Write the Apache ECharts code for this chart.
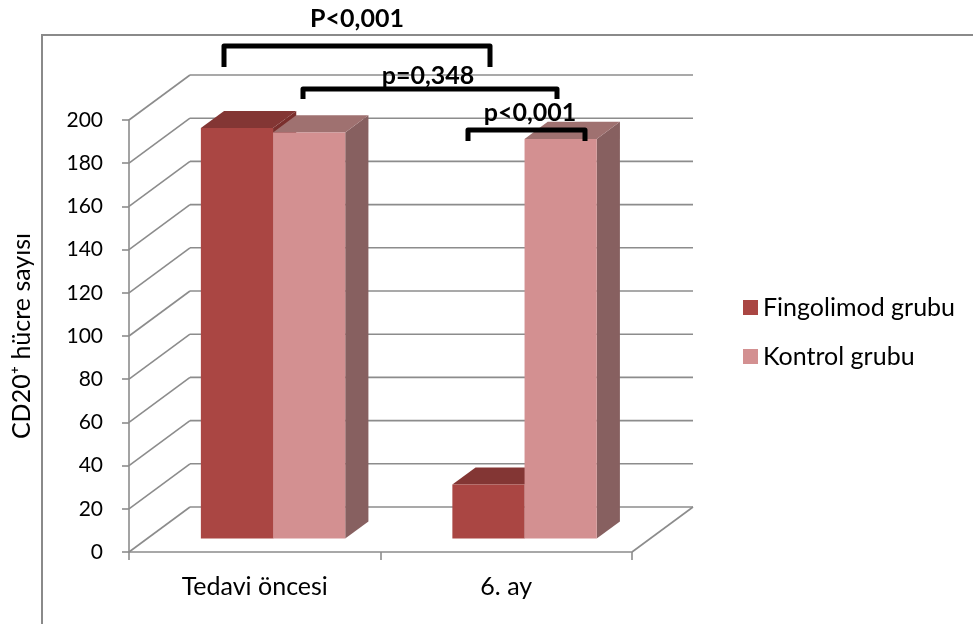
<!DOCTYPE html>
<html>
<head>
<meta charset="utf-8">
<script src="https://cdn.jsdelivr.net/npm/echarts@6/dist/echarts.min.js"></script>
<style>
  html, body { margin: 0; padding: 0; background: #fff; }
  #chart { width: 973px; height: 624px; }
</style>
</head>
<body>
<div id="chart"></div>
<script>
// Categories and values
const categories = ['Tedavi öncesi', '6. ay'];
const seriesNames = ['Fingolimod grubu', 'Kontrol grubu'];
const fingolimod = [190, 25];
const kontrol = [188, 185];
const yTicks = [0, 20, 40, 60, 80, 100, 120, 140, 160, 180, 200];

// Face colours for each series: front, top, side
const faces = [
  { front: '#AA4643', top: '#833634', side: '#7A2F2D' },
  { front: '#D39091', top: '#9F7170', side: '#876060' }
];

const FONT = 'Lato, "Open Sans", "DejaVu Sans", sans-serif';
const GRID_COLOR = '#8C8C8C';

// Oblique depth vector of the plot box (floor / side wall)
const DEPTH_X = 61, DEPTH_Y = -45;
// Bars sit inside the depth between these fractions
const BAR_F0 = 0.3, BAR_F1 = 0.68;
const BAR_W_RATIO = 0.287;

const chart = echarts.init(document.getElementById('chart'));

function wallsRender(params, api) {
  const cs = params.coordSys;
  const v = api.value(1);
  const y = api.coord([0, v])[1];
  const x0 = cs.x, x1 = cs.x + cs.width;
  const style = { stroke: GRID_COLOR, lineWidth: 1.6, fill: null };
  const children = [
    { type: 'line', shape: { x1: x0, y1: y, x2: x0 + DEPTH_X, y2: y + DEPTH_Y }, style },
    { type: 'line', shape: { x1: x0 + DEPTH_X, y1: y + DEPTH_Y, x2: x1 + DEPTH_X, y2: y + DEPTH_Y }, style }
  ];
  if (v === 0) {
    children.push({ type: 'line', shape: { x1: x1, y1: y, x2: x1 + DEPTH_X, y2: y + DEPTH_Y }, style });
  }
  return { type: 'group', children };
}

function makeBarRender(seriesIdx) {
  return function (params, api) {
    const cat = api.value(0);
    const val = api.value(1);
    const top = api.coord([cat, val]);
    const base = api.coord([cat, 0]);
    const band = api.size([1, 0])[0];
    const w = band * BAR_W_RATIO;
    const ox = DEPTH_X * BAR_F0, oy = DEPTH_Y * BAR_F0;
    const dx = DEPTH_X * (BAR_F1 - BAR_F0), dy = DEPTH_Y * (BAR_F1 - BAR_F0);
    const left = top[0] + ox + (seriesIdx === 0 ? -w : 0);
    const right = left + w;
    const yt = top[1] + oy, yb = base[1] + oy;
    const c = faces[seriesIdx];
    return {
      type: 'group',
      children: [
        { type: 'polygon', shape: { points: [[right, yt], [right + dx, yt + dy], [right + dx, yb + dy], [right, yb]] },
          style: { fill: c.side } },
        { type: 'polygon', shape: { points: [[left, yt], [right, yt], [right + dx, yt + dy], [left + dx, yt + dy]] },
          style: { fill: c.top } },
        { type: 'rect', shape: { x: left, y: yt, width: w, height: yb - yt },
          style: { fill: c.front } }
      ]
    };
  };
}

// Significance brackets above the bars
function bracket(x1, x2, yTop, yLeg) {
  const s = { stroke: '#000', lineWidth: 5, fill: null, lineJoin: 'round' };
  return {
    type: 'polyline',
    shape: { points: [[x1, yLeg], [x1, yTop], [x2, yTop], [x2, yLeg]] },
    style: s, z: 100
  };
}
function pText(txt, x, y) {
  return {
    type: 'text', x, y, z: 100,
    style: { text: txt, font: 'bold 25px ' + FONT, fill: '#000', align: 'center', verticalAlign: 'middle' }
  };
}

const option = {
  backgroundColor: '#fff',
  animation: false,
  grid: { left: 129, right: 341, top: 120, bottom: 72, outerBoundsMode: 'none', containLabel: false },
  legend: {
    orient: 'vertical',
    left: 743,
    top: 295,
    padding: 0,
    itemWidth: 15,
    itemHeight: 15,
    itemGap: 24,
    icon: 'rect',
    data: seriesNames,
    textStyle: { fontFamily: FONT, fontSize: 25, color: '#000', padding: [0, 0, 0, 0] }
  },
  xAxis: {
    type: 'category',
    data: categories,
    boundaryGap: true,
    axisLine: { show: true, lineStyle: { color: GRID_COLOR, width: 1.6 } },
    axisTick: { show: true, length: 8, lineStyle: { color: GRID_COLOR, width: 1.6 } },
    axisLabel: { fontFamily: FONT, fontSize: 25, color: '#000', margin: 22 }
  },
  yAxis: {
    type: 'value',
    min: 0,
    max: 200,
    interval: 20,
    name: 'CD20⁺ hücre sayısı',
    nameLocation: 'middle',
    nameGap: 95,
    nameRotate: 90,
    nameTextStyle: { fontFamily: FONT, fontSize: 25, color: '#000' },
    axisLine: { show: true, lineStyle: { color: GRID_COLOR, width: 1.6 } },
    axisTick: { show: true, length: 7, lineStyle: { color: GRID_COLOR, width: 1.6 } },
    axisLabel: { fontFamily: FONT, fontSize: 21, color: '#000', margin: 26 },
    splitLine: { show: false }
  },
  series: [
    {
      name: 'walls',
      type: 'custom',
      renderItem: wallsRender,
      data: yTicks.map(v => [0, v]),
      clip: false,
      silent: true,
      z: 1
    },
    {
      name: seriesNames[0],
      type: 'custom',
      renderItem: makeBarRender(0),
      itemStyle: { color: faces[0].front },
      data: fingolimod.map((v, i) => [i, v]),
      clip: false,
      z: 3
    },
    {
      name: seriesNames[1],
      type: 'custom',
      renderItem: makeBarRender(1),
      itemStyle: { color: faces[1].front },
      data: kontrol.map((v, i) => [i, v]),
      clip: false,
      z: 4
    }
  ],
  graphic: [
    // frame
    { type: 'polyline', shape: { points: [[42, 624], [42, 35], [973, 35]] },
      style: { stroke: '#8A8A8A', lineWidth: 2, fill: null }, z: 0 },
    bracket(224, 490, 46, 67),
    pText('P<0,001', 357, 19),
    bracket(303, 557, 89, 99),
    pText('p=0,348', 428, 76),
    bracket(468, 585, 130, 141),
    pText('p<0,001', 530, 113)
  ]
};

chart.setOption(option);
</script>
</body>
</html>
